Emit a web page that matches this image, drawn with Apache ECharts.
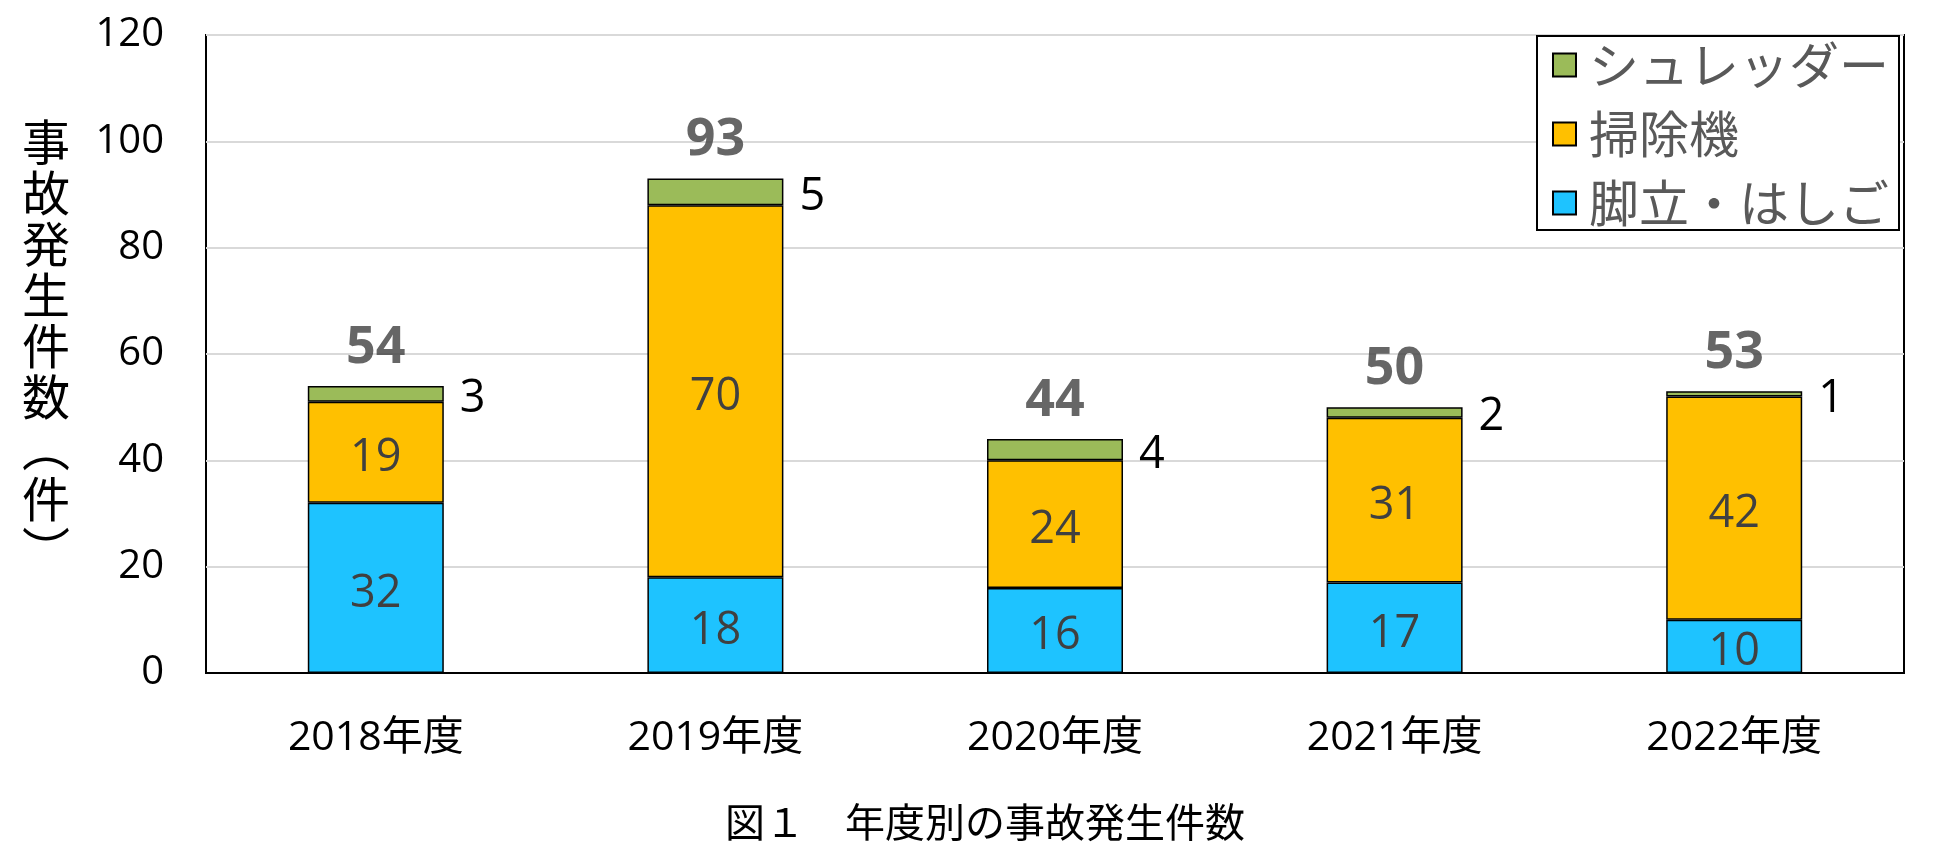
<!DOCTYPE html>
<html><head><meta charset="utf-8">
<script src="https://cdn.jsdelivr.net/npm/echarts@6/dist/echarts.min.js"></script>
<style>html,body{margin:0;padding:0;background:#fff}#c{width:1950px;height:861px}</style>
</head><body><div id="c"></div>
<script>
const categories = ['2018年度', '2019年度', '2020年度', '2021年度', '2022年度'];
const ladder = [32, 18, 16, 17, 10];     // 脚立・はしご
const cleaner = [19, 70, 24, 31, 42];    // 掃除機
const shredder = [3, 5, 4, 2, 1];        // シュレッダー
const seriesNames = ['脚立・はしご', '掃除機', 'シュレッダー'];
const legendOrder = ['シュレッダー', '掃除機', '脚立・はしご'];
const yAxisTitle = '事故発生件数︵件︶';
const chartTitle = '図１　年度別の事故発生件数';
const totals = categories.map((_, i) => ladder[i] + cleaner[i] + shredder[i]);

const LATIN = "'Open Sans', 'Noto Sans CJK JP', sans-serif";
const CJK = "'Noto Sans CJK JP', 'Open Sans', sans-serif";

const chart = echarts.init(document.getElementById('c'), null, { renderer: 'canvas' });

const segLabel = { show: true, position: 'inside', color: '#404040', fontSize: 45, fontFamily: LATIN, offset: [0, 6] };
const barBase = { type: 'bar', stack: 'total', barWidth: 136, animation: false };

chart.setOption({
  animation: false,
  backgroundColor: '#fff',
  grid: { left: 206, right: 46, top: 35, bottom: 188, show: true, borderColor: '#000', borderWidth: 2, backgroundColor: 'transparent' },
  legend: {
    data: legendOrder,
    orient: 'vertical', left: 1537, top: 36,
    backgroundColor: '#fff', borderColor: '#000', borderWidth: 2,
    padding: [4, 10, 2, 15],
    itemWidth: 23, itemHeight: 23, itemGap: 19,
    icon: 'rect', selectedMode: false,
    textStyle: { fontSize: 50, lineHeight: 50, color: '#595959', fontFamily: CJK, padding: [0, 0, 0, 8] }
  },
  xAxis: {
    type: 'category', data: categories,
    axisLine: { show: true, lineStyle: { color: '#000', width: 2 } },
    axisTick: { show: false },
    axisLabel: { color: '#000', fontSize: 41, fontFamily: LATIN, margin: 45 },
    splitLine: { show: false }
  },
  yAxis: {
    type: 'value', min: 0, max: 120, interval: 20,
    axisLine: { show: false }, axisTick: { show: false },
    axisLabel: { color: '#000', fontSize: 40, fontFamily: LATIN, margin: 42 },
    splitLine: { show: true, lineStyle: { color: '#D9D9D9', width: 2 } }
  },
  series: [
    Object.assign({}, barBase, {
      name: seriesNames[0], data: ladder,
      itemStyle: { color: '#1EC3FF', borderColor: '#000', borderWidth: 1.5 },
      label: segLabel
    }),
    Object.assign({}, barBase, {
      name: seriesNames[1], data: cleaner,
      itemStyle: { color: '#FFC000', borderColor: '#000', borderWidth: 1.5 },
      label: segLabel
    }),
    Object.assign({}, barBase, {
      name: seriesNames[2], data: shredder,
      itemStyle: { color: '#9BBB59', borderColor: '#000', borderWidth: 1.5 },
      label: { show: true, position: 'right', distance: 16, offset: [0, 5], color: '#000', fontSize: 45, fontFamily: LATIN }
    }),
    {
      name: '合計', type: 'scatter', data: totals, symbolSize: 0, silent: true, z: 10,
      label: { show: true, position: 'top', distance: 18, offset: [0, 6], color: '#404040', fontSize: 52, fontWeight: 'bold', fontFamily: LATIN, formatter: p => p.value }
    }
  ],
  graphic: [
    {
      type: 'text', left: 22, top: 116,
      style: { text: yAxisTitle.split('').join('\n'), fontSize: 48, lineHeight: 51, fontFamily: CJK, fill: '#000', align: 'center' }
    },
    {
      type: 'text', x: 985, y: 822,
      style: { text: chartTitle, fontSize: 40, fontFamily: CJK, fill: '#000', align: 'center', verticalAlign: 'middle' }
    }
  ]
});
</script>
</body></html>
